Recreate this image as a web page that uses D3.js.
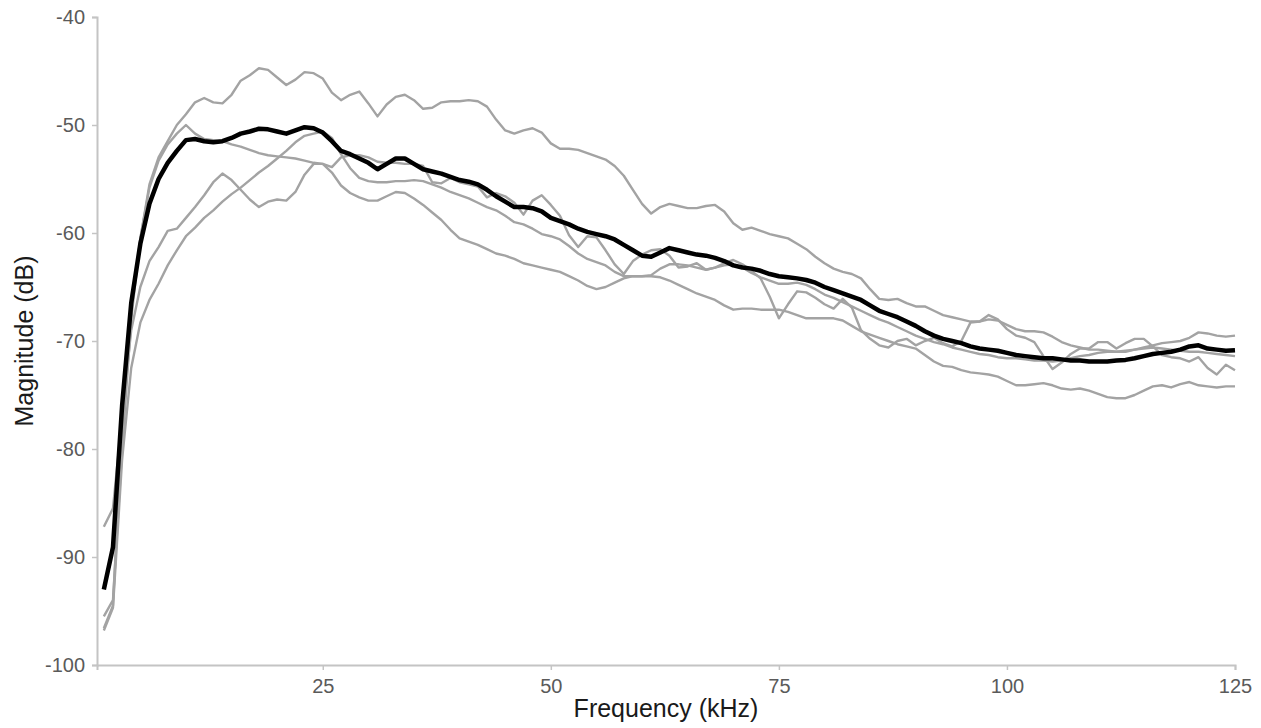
<!DOCTYPE html>
<html>
<head>
<meta charset="utf-8">
<script src="https://cdn.jsdelivr.net/npm/d3@7"></script>
<style>
  html, body { margin: 0; padding: 0; background: #fff; }
  svg { display: block; font-family: "Liberation Sans", Arial, Helvetica, sans-serif; }
</style>
</head>
<body>
<svg id="chart" width="1261" height="728"></svg>
<script>
// Frequencies (kHz) of each sample
const freqs = d3.range(1, 126);

// Individual recordings (grey)
const seriesA = [-95.5,-94.0,-80.0,-68.0,-60.5,-55.5,-53.0,-51.5,-50.0,-49.0,
  -47.9,-47.5,-47.9,-48.0,-47.2,-45.9,-45.4,-44.75,-44.9,-45.6,
  -46.3,-45.8,-45.1,-45.2,-45.7,-47.0,-47.7,-47.2,-46.9,-48.0,
  -49.2,-48.1,-47.4,-47.2,-47.7,-48.5,-48.4,-47.9,-47.8,-47.8,
  -47.7,-47.8,-48.3,-49.5,-50.5,-50.8,-50.5,-50.3,-50.7,-51.7,
  -52.2,-52.2,-52.3,-52.6,-52.9,-53.2,-53.8,-54.7,-56.0,-57.3,
  -58.2,-57.6,-57.3,-57.5,-57.7,-57.7,-57.5,-57.4,-58.0,-59.1,
  -59.7,-59.5,-59.8,-60.1,-60.3,-60.5,-61.0,-61.5,-62.2,-62.8,
  -63.3,-63.6,-63.8,-64.2,-65.2,-66.1,-66.2,-66.1,-66.5,-66.8,
  -66.8,-67.2,-67.6,-67.8,-68.0,-68.2,-68.2,-68.0,-68.1,-68.5,
  -68.9,-69.1,-69.1,-69.2,-69.6,-70.1,-70.4,-70.6,-70.8,-70.8,
  -70.9,-71.0,-71.0,-70.8,-70.6,-70.4,-70.2,-70.1,-70.0,-69.7,
  -69.2,-69.3,-69.5,-69.6,-69.5];

const seriesB = [-96.6,-94.5,-78.0,-67.0,-60.5,-55.8,-53.3,-51.8,-50.8,-50.0,
  -50.8,-51.3,-51.4,-51.5,-51.8,-52.0,-52.3,-52.6,-52.8,-52.9,
  -53.0,-53.1,-53.3,-53.5,-53.6,-54.4,-55.6,-56.3,-56.7,-57.0,
  -57.0,-56.6,-56.2,-56.3,-56.8,-57.4,-58.1,-58.8,-59.7,-60.5,
  -60.8,-61.1,-61.5,-61.9,-62.1,-62.4,-62.8,-63.0,-63.2,-63.4,
  -63.6,-64.0,-64.4,-64.9,-65.2,-65.0,-64.6,-64.2,-64.0,-64.0,
  -64.0,-64.1,-64.4,-64.8,-65.2,-65.6,-65.9,-66.2,-66.7,-67.1,
  -67.0,-67.0,-67.1,-67.1,-67.1,-67.3,-67.6,-67.9,-67.9,-67.9,
  -67.9,-68.1,-68.6,-69.1,-69.4,-69.7,-70.0,-70.3,-70.5,-70.7,
  -71.3,-71.9,-72.3,-72.4,-72.7,-72.9,-73.0,-73.1,-73.3,-73.7,
  -74.1,-74.1,-74.0,-73.9,-74.1,-74.4,-74.5,-74.4,-74.6,-74.9,
  -75.2,-75.3,-75.3,-75.0,-74.6,-74.2,-74.1,-74.3,-74.0,-73.8,
  -74.1,-74.2,-74.3,-74.2,-74.2];

const seriesC = [-87.2,-85.5,-77.0,-69.0,-65.0,-62.6,-61.3,-59.8,-59.6,-58.6,
  -57.6,-56.5,-55.3,-54.5,-55.1,-56.0,-56.9,-57.6,-57.1,-56.9,
  -57.0,-56.2,-54.6,-53.6,-53.6,-53.9,-53.0,-52.8,-52.8,-53.0,
  -53.4,-53.5,-53.5,-53.6,-53.6,-53.8,-55.3,-55.4,-54.9,-55.3,
  -55.5,-55.7,-56.7,-56.3,-56.6,-57.2,-58.3,-57.0,-56.5,-57.4,
  -58.4,-60.2,-61.3,-60.3,-60.4,-61.6,-62.9,-63.8,-62.6,-62.0,
  -61.6,-61.5,-62.1,-63.2,-63.1,-62.8,-63.4,-63.2,-62.8,-62.5,
  -62.9,-63.5,-64.2,-65.9,-67.9,-66.6,-65.4,-65.5,-66.0,-66.6,
  -67.0,-66.1,-66.9,-69.0,-69.8,-70.4,-70.6,-70.0,-69.8,-70.4,
  -70.0,-69.7,-70.2,-70.5,-70.0,-68.3,-68.2,-67.6,-68.0,-68.9,
  -69.5,-69.7,-70.1,-71.4,-72.6,-72.0,-71.2,-70.7,-70.7,-70.1,
  -70.1,-70.7,-70.2,-69.8,-69.8,-70.5,-71.3,-71.5,-71.6,-71.9,
  -71.5,-72.5,-73.1,-72.2,-72.7];

const seriesD = [-96.8,-94.7,-81.0,-72.5,-68.3,-66.2,-64.7,-63.0,-61.6,-60.3,
  -59.5,-58.6,-57.9,-57.1,-56.4,-55.8,-55.1,-54.4,-53.8,-53.1,
  -52.4,-51.6,-51.0,-50.8,-50.6,-51.2,-52.7,-54.0,-54.9,-55.2,
  -55.3,-55.3,-55.2,-55.2,-55.1,-55.2,-55.5,-55.8,-56.2,-56.5,
  -56.8,-57.2,-57.6,-57.9,-58.4,-59.0,-59.2,-59.6,-60.1,-60.3,
  -60.6,-61.2,-61.9,-62.4,-62.7,-63.0,-63.6,-64.0,-64.0,-64.0,
  -63.9,-63.3,-62.9,-62.9,-63.0,-63.2,-63.4,-63.2,-63.0,-62.9,
  -63.2,-63.7,-64.1,-64.4,-64.7,-64.7,-64.6,-64.8,-65.2,-65.7,
  -66.0,-66.4,-66.8,-67.2,-67.6,-68.0,-68.3,-68.7,-69.1,-69.5,
  -69.8,-70.1,-70.3,-70.6,-70.8,-71.0,-71.2,-71.3,-71.5,-71.6,
  -71.6,-71.7,-71.8,-71.8,-71.9,-71.8,-71.6,-71.4,-71.3,-71.1,
  -71.0,-71.0,-70.9,-70.8,-70.7,-70.6,-70.7,-70.8,-70.9,-71.0,
  -71.0,-71.1,-71.2,-71.3,-71.4];

// Average response (black)
const seriesMean = [-93.0,-89.1,-76.0,-66.5,-61.0,-57.3,-55.0,-53.5,-52.4,-51.4,
  -51.3,-51.5,-51.6,-51.5,-51.2,-50.8,-50.6,-50.35,-50.4,-50.6,
  -50.8,-50.5,-50.2,-50.3,-50.7,-51.5,-52.4,-52.7,-53.1,-53.5,
  -54.1,-53.6,-53.1,-53.1,-53.6,-54.1,-54.3,-54.5,-54.8,-55.1,
  -55.25,-55.5,-56.0,-56.6,-57.1,-57.6,-57.6,-57.7,-58.0,-58.6,
  -58.9,-59.2,-59.6,-59.9,-60.1,-60.3,-60.6,-61.1,-61.6,-62.1,
  -62.2,-61.8,-61.4,-61.6,-61.8,-62.0,-62.1,-62.3,-62.6,-63.0,
  -63.2,-63.3,-63.5,-63.8,-64.0,-64.1,-64.2,-64.35,-64.6,-65.0,
  -65.3,-65.6,-65.9,-66.2,-66.7,-67.2,-67.5,-67.8,-68.2,-68.6,
  -69.1,-69.5,-69.8,-70.0,-70.2,-70.5,-70.7,-70.8,-70.9,-71.1,
  -71.3,-71.4,-71.5,-71.6,-71.6,-71.7,-71.8,-71.8,-71.9,-71.9,
  -71.9,-71.8,-71.75,-71.6,-71.4,-71.2,-71.1,-71.0,-70.8,-70.5,
  -70.4,-70.7,-70.8,-70.9,-70.85];

const greySeries = [seriesA, seriesB, seriesC, seriesD];

const xTicks = [25, 50, 75, 100, 125];
const yTicks = [-100, -90, -80, -70, -60, -50, -40];
const xTitle = "Frequency (kHz)";
const yTitle = "Magnitude (dB)";

// ---- drawing ----
const svg = d3.select("#chart");
const plotLeft = 97, plotRight = 1235, plotTop = 17, plotBottom = 665;

const x = d3.scaleLinear().domain([0.25, 125]).range([plotLeft, plotRight]);
const y = d3.scaleLinear().domain([-100, -40]).range([plotBottom, plotTop]);

const axisColor = "#c4c4c4";
const tickTextColor = "#5a5a5a";

const gx = svg.append("g")
  .attr("transform", `translate(0,${plotBottom})`)
  .call(d3.axisBottom(x).tickValues(xTicks).tickSize(5).tickPadding(9).tickFormat(d3.format("d")));
const gy = svg.append("g")
  .attr("transform", `translate(${plotLeft},0)`)
  .call(d3.axisLeft(y).tickValues(yTicks).tickSize(5).tickPadding(7).tickFormat(d => String(d)));

[gx, gy].forEach(g => {
  g.select(".domain").attr("stroke", axisColor).attr("stroke-width", 2);
  g.selectAll(".tick line").attr("stroke", axisColor).attr("stroke-width", 1.5);
  g.selectAll(".tick text")
    .attr("fill", tickTextColor)
    .style("font-size", "20px")
    .style("font-family", '"Liberation Sans", Arial, sans-serif');
});

const line = d3.line()
  .x((d, i) => x(freqs[i]))
  .y(d => y(d));

svg.append("g")
  .selectAll("path")
  .data(greySeries)
  .join("path")
  .attr("d", line)
  .attr("fill", "none")
  .attr("stroke", "#a3a3a3")
  .attr("stroke-width", 2.4)
  .attr("stroke-linejoin", "round");

svg.append("path")
  .datum(seriesMean)
  .attr("d", line)
  .attr("fill", "none")
  .attr("stroke", "#000")
  .attr("stroke-width", 4.5)
  .attr("stroke-linejoin", "round");

svg.append("text")
  .attr("x", (plotLeft + plotRight) / 2)
  .attr("y", 717)
  .attr("text-anchor", "middle")
  .attr("fill", "#1a1a1a")
  .style("font-size", "25px")
  .text(xTitle);

svg.append("text")
  .attr("transform", `translate(33,${(plotTop + plotBottom) / 2}) rotate(-90)`)
  .attr("text-anchor", "middle")
  .attr("fill", "#1a1a1a")
  .style("font-size", "25px")
  .text(yTitle);
</script>
</body>
</html>
